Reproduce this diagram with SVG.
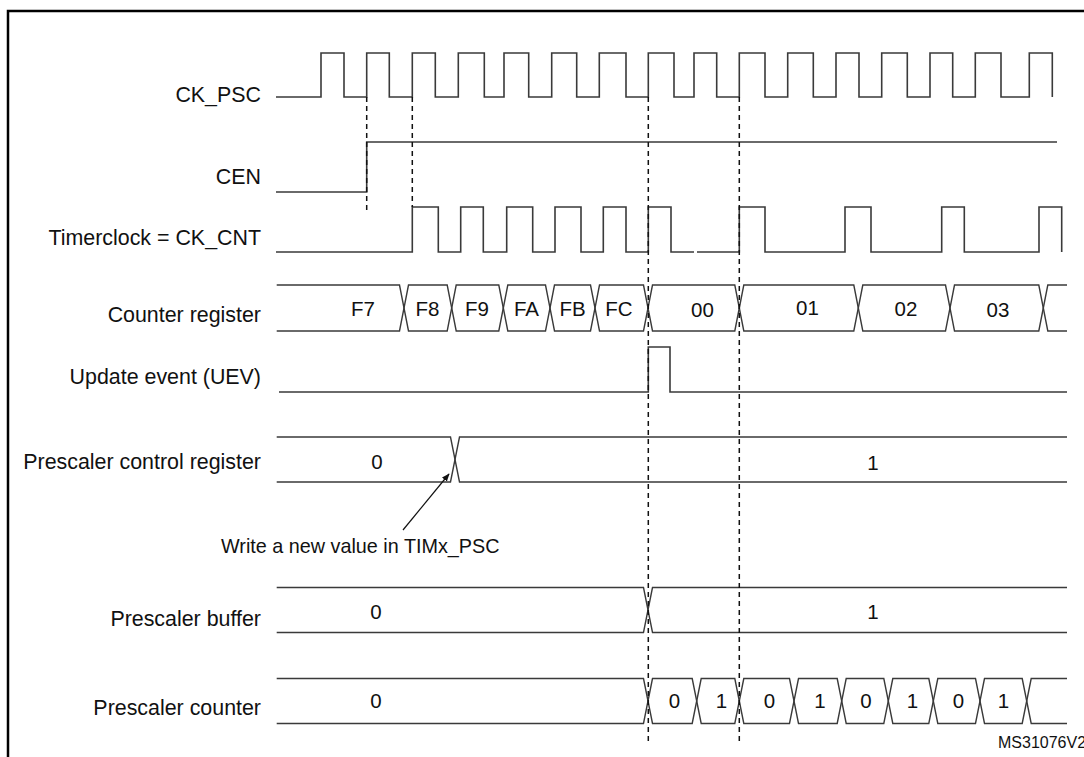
<svg xmlns="http://www.w3.org/2000/svg" width="1084" height="757" viewBox="0 0 1084 757">
<defs>
<style>
.lbl{font-family:"Liberation Sans",Arial,sans-serif;font-size:21.4px;fill:#111;text-anchor:end}
.val{font-family:"Liberation Sans",Arial,sans-serif;font-size:20.5px;fill:#111;text-anchor:middle}
.wave{fill:none;stroke:#3a3a3a;stroke-width:1.6}
.bus{fill:none;stroke:#3a3a3a;stroke-width:1.4;stroke-linejoin:miter}
.dash{fill:none;stroke:#111;stroke-width:1.5;stroke-dasharray:5 4}
</style>
<marker id="ah" viewBox="0 0 10 10" refX="9" refY="5" markerWidth="8" markerHeight="8" orient="auto" markerUnits="userSpaceOnUse">
<path d="M0,1 L10,5 L0,9 z" fill="#111"/>
</marker>
</defs>
<rect width="1084" height="757" fill="#fff"/>
<path d="M8 757 V11 H1084" fill="none" stroke="#000" stroke-width="2.5"/>

<g id="ck_psc">
<text class="lbl" x="261" y="101.5">CK_PSC</text>
<path class="wave" d="M276 97 H321 V53 H344 V97 H366.7 V53 H389.3 V97 H412.3 V53 H435.3 V97 H458.3 V53 H484.3 V97 H504 V53 H528.7 V97 H551.7 V53 H576.7 V97 H599.3 V53 H626 V97 H648.3 V53 H674 V97 H694 V53 H716.7 V97 H739.3 V53 H765 V97 H787.7 V53 H813.3 V97 H836 V53 H859 V97 H881.7 V53 H907.3 V97 H930 V53 H952.7 V97 H975.3 V53 H1001 V97 H1029.3 V53 H1052.3 V97"/>
</g>

<g id="cen">
<text class="lbl" x="261" y="184">CEN</text>
<path class="wave" d="M276 192 H366.7 V142 H1057"/>
</g>

<g id="timerclock">
<text class="lbl" x="261" y="245">Timerclock = CK_CNT</text>
<path class="wave" d="M276 252 H412.3 V207 H438.3 V252 H460.7 V207 H483.3 V252 H506.7 V207 H532.7 V252 H555 V207 H581 V252 H603.3 V207 H626 V252 H648.3 V207 H671 V252 H694"/>
<path class="wave" d="M697 252 H739.3 V207 H765 V252 H845 V207 H871 V252 H941.7 V207 H964.3 V252 H1039 V207 H1061.7 V252"/>
</g>

<g id="counter_register">
<text class="lbl" x="261" y="322">Counter register</text>
<path class="bus" d="M276.7 285 H399.5 L408.5 331 H447.2 L456.2 285 H498.8 L507.8 331 H545.5 L554.5 285 H590.5 L599.5 331 H643.5 L652.5 285 H734.8 L743.8 331 H853.8 L862.8 285 H945.5 L954.5 331 H1038.8 L1047.8 285 H1067"/>
<path class="bus" d="M276.7 331 H399.5 L408.5 285 H447.2 L456.2 331 H498.8 L507.8 285 H545.5 L554.5 331 H590.5 L599.5 285 H643.5 L652.5 331 H734.8 L743.8 285 H853.8 L862.8 331 H945.5 L954.5 285 H1038.8 L1047.8 331 H1067"/>
<text class="val" x="363" y="316">F7</text>
<text class="val" x="427.5" y="316">F8</text>
<text class="val" x="477" y="316">F9</text>
<text class="val" x="526.5" y="316">FA</text>
<text class="val" x="572.5" y="316">FB</text>
<text class="val" x="619" y="316">FC</text>
<text class="val" x="702.5" y="317">00</text>
<text class="val" x="807.5" y="315">01</text>
<text class="val" x="906" y="316">02</text>
<text class="val" x="998" y="317">03</text>
</g>

<g id="update_event">
<text class="lbl" x="261" y="384">Update event (UEV)</text>
<path class="wave" d="M279 392 H648.3 V347 H670 V392 H1067"/>
</g>

<g id="prescaler_control">
<text class="lbl" x="261" y="469">Prescaler control register</text>
<path class="bus" d="M276.7 437 H450.5 L459.5 482 H1067"/>
<path class="bus" d="M276.7 482 H450.5 L459.5 437 H1067"/>
<text class="val" x="377" y="469">0</text>
<text class="val" x="873" y="470">1</text>
</g>

<g id="write_note">
<text x="221" y="553" style="font-family:'Liberation Sans',Arial,sans-serif;font-size:19.8px;fill:#111">Write a new value in TIMx_PSC</text>
</g>

<g id="prescaler_buffer">
<text class="lbl" x="261" y="626">Prescaler buffer</text>
<path class="bus" d="M276.7 587.5 H643.5 L652.5 632.5 H1067"/>
<path class="bus" d="M276.7 632.5 H643.5 L652.5 587.5 H1067"/>
<text class="val" x="376" y="619">0</text>
<text class="val" x="873" y="618.5">1</text>
</g>

<g id="prescaler_counter">
<text class="lbl" x="261" y="715">Prescaler counter</text>
<path class="bus" d="M276.7 678.5 H643.5 L652.5 723.5 H692.2 L701.2 678.5 H734.8 L743.8 723.5 H789.5 L798.5 678.5 H837.2 L846.2 723.5 H883.8 L892.8 678.5 H928.8 L937.8 723.5 H975.5 L984.5 678.5 H1022.2 L1031.2 723.5 H1067"/>
<path class="bus" d="M276.7 723.5 H643.5 L652.5 678.5 H692.2 L701.2 723.5 H734.8 L743.8 678.5 H789.5 L798.5 723.5 H837.2 L846.2 678.5 H883.8 L892.8 723.5 H928.8 L937.8 678.5 H975.5 L984.5 723.5 H1022.2 L1031.2 678.5 H1067"/>
<text class="val" x="376" y="708">0</text>
<text class="val" x="674.5" y="708">0</text>
<text class="val" x="721.5" y="708">1</text>
<text class="val" x="769.5" y="708">0</text>
<text class="val" x="820" y="708">1</text>
<text class="val" x="866" y="708">0</text>
<text class="val" x="912.5" y="708">1</text>
<text class="val" x="958.5" y="708">0</text>
<text class="val" x="1003.5" y="708">1</text>
</g>

<g id="connectors">
<line class="dash" x1="366.7" y1="97" x2="366.7" y2="212"/>
<line class="dash" x1="412.3" y1="97" x2="412.3" y2="207"/>
<line class="dash" x1="648.3" y1="97" x2="648.3" y2="741"/>
<line class="dash" x1="739.3" y1="97" x2="739.3" y2="741"/>
<line x1="403" y1="530" x2="449" y2="474" stroke="#111" stroke-width="1.2" marker-end="url(#ah)"/>
</g>

<text x="998" y="748" style="font-family:'Liberation Sans',Arial,sans-serif;font-size:16px;fill:#111">MS31076V2</text>
</svg>
